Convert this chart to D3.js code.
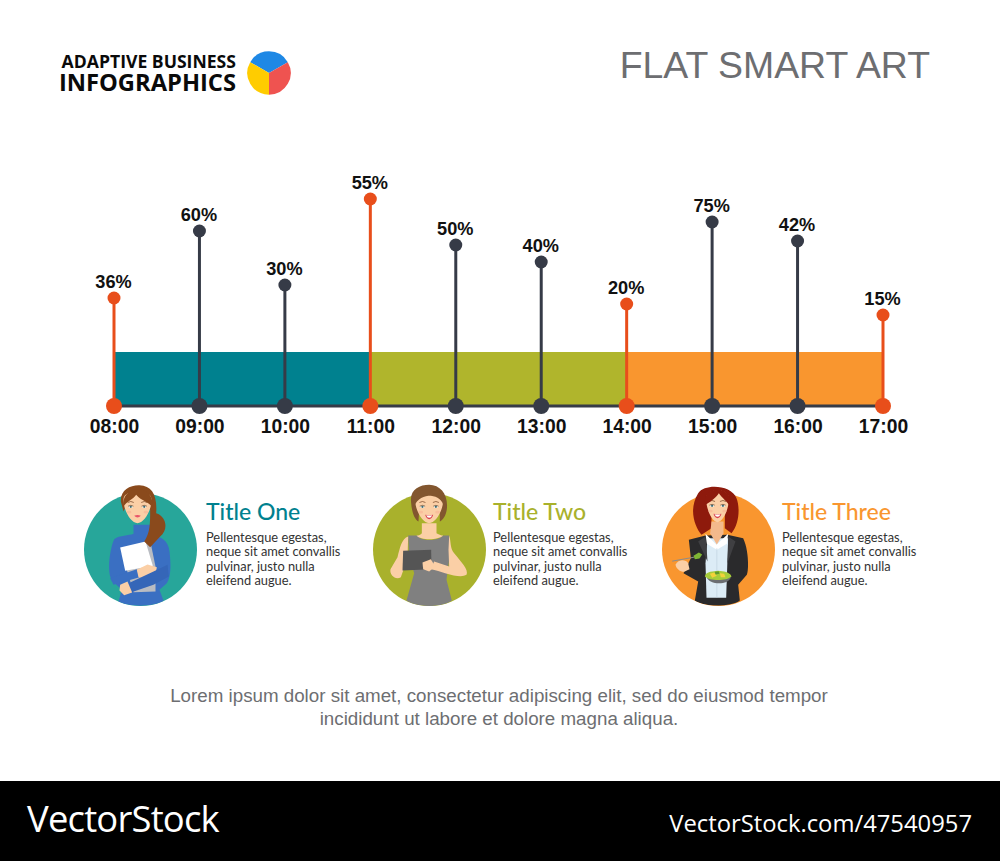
<!DOCTYPE html>
<html><head><meta charset="utf-8">
<script src="https://d3js.org/d3.v7.min.js"></script>
<style>html,body{margin:0;padding:0;background:#fff}svg{display:block}</style>
</head><body><svg id="c" width="1000" height="861" viewBox="0 0 1000 861"></svg>
<script>
const times=["08:00","09:00","10:00","11:00","12:00","13:00","14:00","15:00","16:00","17:00"];
const percentLabels=["36%","60%","30%","55%","50%","40%","20%","75%","42%","15%"];
const stemHeights=[108,175,121,207,161,144,102,184,165,91];
const accented=["08:00","11:00","14:00","17:00"];
const bandStarts=["08:00","11:00","14:00"];
const bandEnds=["11:00","14:00","17:00"];
const bandHeight=54;
const bandColors=["#00818f","#b0b52c","#f9962f"];
const titles=["Title One","Title Two","Title Three"];
const titleColors=["#00818f","#a9b12c","#f9962f"];
const circleColors=["#27a69a","#a9b12c","#f9962f"];
const descLines=["Pellentesque egestas,","neque sit amet convallis","pulvinar, justo nulla","eleifend augue."];
const logoShares=[1,1,1];
const logoColors=["#1e88e5","#ef5350","#ffcc00"];
const footerLines=["Lorem ipsum dolor sit amet, consectetur adipiscing elit, sed do eiusmod tempor","incididunt ut labore et dolore magna aliqua."];

const svg=d3.select("#c");
const DARK="#363b47",ORANGE="#e84e1b",GREY="#6d6e71";
const ARIAL="'Liberation Sans',Arial,sans-serif";
const x=d3.scalePoint().domain(times).range([114,883]);
const y=d3.scaleLinear().domain([0,207]).range([406,199]);
const col=t=>accented.includes(t)?ORANGE:DARK;

// header
const logo=svg.append("text").attr("text-anchor","end").attr("font-family","'Open Sans',sans-serif").attr("font-weight",700).attr("fill","#0a0a0a");
logo.append("tspan").attr("x",236).attr("y",68).attr("font-size",17.6).text("ADAPTIVE BUSINESS");
logo.append("tspan").attr("x",236).attr("y",91).attr("font-size",23.7).text("INFOGRAPHICS");
const pie=d3.pie().sort(null).startAngle(-Math.PI/3).endAngle(Math.PI*5/3)(logoShares);
svg.append("g").attr("transform","translate(269,73)").selectAll("path").data(pie).join("path")
  .attr("d",d3.arc().innerRadius(0).outerRadius(21.7)).attr("fill",(d,i)=>logoColors[i]);
svg.append("text").attr("x",930).attr("y",78).attr("text-anchor","end").attr("font-family",ARIAL).attr("font-size",37.4).attr("fill",GREY).text("FLAT SMART ART");

// bands
svg.append("g").selectAll("rect").data(bandStarts).join("rect")
  .attr("x",d=>x(d)).attr("width",(d,i)=>x(bandEnds[i])-x(d))
  .attr("y",y(bandHeight)).attr("height",y(0)-y(bandHeight)).attr("fill",(d,i)=>bandColors[i]);
// baseline
svg.append("line").attr("x1",x(times[0])).attr("x2",x(times[9])).attr("y1",y(0)).attr("y2",y(0)).attr("stroke",DARK).attr("stroke-width",3);
// stems
const g=svg.append("g").selectAll("g").data(times).join("g");
g.append("line").attr("x1",d=>x(d)).attr("x2",d=>x(d)).attr("y1",y(0)).attr("y2",(d,i)=>y(stemHeights[i])).attr("stroke",col).attr("stroke-width",3);
g.append("circle").attr("cx",d=>x(d)).attr("cy",(d,i)=>y(stemHeights[i])).attr("r",6.5).attr("fill",col);
g.append("circle").attr("cx",d=>x(d)).attr("cy",y(0)).attr("r",8).attr("fill",col);
g.append("text").attr("x",d=>x(d)-0.5).attr("y",(d,i)=>y(stemHeights[i])-10.5).attr("text-anchor","middle").attr("font-family",ARIAL).attr("font-weight",700).attr("font-size",18.2).attr("fill","#111").text((d,i)=>percentLabels[i]);
g.append("text").attr("x",d=>x(d)+0.5).attr("y",433).attr("text-anchor","middle").attr("font-family",ARIAL).attr("font-weight",700).attr("font-size",19.3).attr("fill","#111").text(d=>d);

// people (authored in a 3x local grid around the circle centre)
const SKIN="#fbcfa6",SKIN2="#f3b98c";
function P(s,d,f,extra){const p=s.append("path").attr("d",d).attr("fill",f);if(extra)for(const k in extra)p.attr(k,extra[k]);return p;}
function face(s,cx,cy,w,smile){
  P(s,`M${cx-w} ${cy-30} C${cx-w} ${cy-62} ${cx+w} ${cy-62} ${cx+w} ${cy-30} C${cx+w+1} ${cy+4} ${cx+w*.45} ${cy+42} ${cx} ${cy+42} C${cx-w*.45} ${cy+42} ${cx-w-1} ${cy+4} ${cx-w} ${cy-30}Z`,SKIN);
  const ex=w*.48;
  [-1,1].forEach(k=>{
    s.append("ellipse").attr("cx",cx+k*ex).attr("cy",cy-7).attr("rx",6.5).attr("ry",3.6).attr("fill","#e9f2ee");
    s.append("circle").attr("cx",cx+k*ex).attr("cy",cy-7).attr("r",3.2).attr("fill","#3f6a70");
    P(s,`M${cx+k*ex-8} ${cy-9} Q${cx+k*ex} ${cy-14} ${cx+k*ex+8} ${cy-9}`,"none",{stroke:"#3a2415","stroke-width":1.6});
    P(s,`M${cx+k*ex-9} ${cy-20} Q${cx+k*ex} ${cy-26} ${cx+k*ex+9} ${cy-20}`,"none",{stroke:"#6b3a1b","stroke-width":2});
    s.append("ellipse").attr("cx",cx+k*(ex+5)).attr("cy",cy+9).attr("rx",7).attr("ry",4).attr("fill","#f6a98f").attr("opacity",.45);
  });
  if(smile){
    P(s,`M${cx-12} ${cy+17} Q${cx} ${cy+19} ${cx+12} ${cy+17} Q${cx+8} ${cy+30} ${cx} ${cy+30} Q${cx-8} ${cy+30} ${cx-12} ${cy+17}Z`,"#d8434f");
    P(s,`M${cx-9} ${cy+18.5} Q${cx} ${cy+20} ${cx+9} ${cy+18.5} Q${cx+6} ${cy+26} ${cx} ${cy+26} Q${cx-6} ${cy+26} ${cx-9} ${cy+18.5}Z`,"#fff");
  } else P(s,`M${cx-10} ${cy+20} Q${cx} ${cy+15} ${cx+10} ${cy+20} Q${cx} ${cy+30} ${cx-10} ${cy+20}Z`,"#e8566a");
}
function person1(s){
  P(s,"M190 165L240 165L242 198C272 198 294 212 298 245C304 295 300 325 290 340L268 360L280 393C250 412 172 412 145 395L155 360L128 335C108 315 118 240 132 208C150 196 175 198 190 192Z","#3a6fc2");
  P(s,"M225 215L240 212L256 290L256 365L190 367L170 300Z","#b9bcc2");
  P(s,"M150 233L226 215L248 288L165 303Z","#ffffff");
  P(s,"M120 325L200 298L208 322L130 345Z","#3a6fc2");
  P(s,"M200 300L232 284L260 292L256 312L222 324L205 322Z",SKIN);
  P(s,"M172 342L250 305L292 285L296 320L250 345L182 368Z","#3566b8");
  P(s,"M150 345L172 335L186 368L162 376L148 362Z",SKIN);
  P(s,"M152 95C150 60 180 45 208 46C245 48 262 75 258 130C290 140 295 180 270 200L240 232L222 215C240 190 240 160 240 120L190 85C175 100 165 110 160 125Z","#8a4a1c");
  face(s,202,118,42,false);
  P(s,"M160 110C170 95 190 88 198 75C215 95 235 95 246 112C252 80 230 58 205 58C175 58 155 80 160 110Z","#8a4a1c");
}
function person2(s){
  P(s,"M147 197L175 197C185 215 235 215 252 197L270 197L272 255L262 330L278 392C250 414 170 414 142 392L165 310L150 260Z","#808080");
  P(s,"M188 160L232 160L232 190C240 195 248 197 252 197C235 212 185 212 172 197C178 197 185 195 188 190Z",SKIN);
  P(s,"M147 200C128 205 122 235 115 262L94 298C90 315 110 332 125 322L145 265Z",SKIN);
  P(s,"M270 197C276 215 272 235 285 250C305 275 330 300 322 315C300 328 250 305 215 298L225 275L270 290L268 240Z",SKIN);
  P(s,"M132 243L216 240L217 298L130 302Z","#555555");
  P(s,"M190 278L215 268L228 290L210 305L192 298Z",SKIN);
  P(s,"M156 100C150 60 180 45 210 45C245 46 268 75 263 118C260 140 250 150 242 155L242 120L180 120L178 155C165 148 158 125 156 100Z","#82562f");
  face(s,210,118,42,true);
  P(s,"M165 110C175 85 195 78 215 78C235 80 250 92 254 110C262 70 235 58 210 58C180 58 158 78 165 110Z","#82562f");
}
function person3(s){
  P(s,"M172 197L238 195L285 205C302 240 302 300 296 315L270 345L275 392C250 412 165 412 140 392L150 335L106 310L128 265L122 210Z","#2a2a2c");
  P(s,"M178 205L240 205L234 384L175 384L172 280Z","#dcecf6");
  P(s,"M172 192L205 225L240 192L236 222L206 240L176 222Z","#ffffff");
  P(s,"M172 200L150 215L178 275L175 230Z","#3f3f42");
  P(s,"M240 200L262 215L238 280L240 230Z","#3f3f42");
  P(s,"M206 235V384","none",{stroke:"#b7cbd8","stroke-width":1.5});
  P(s,"M150 70C120 120 140 170 160 195L190 175L190 120L230 105L230 175L250 190C275 160 275 110 265 85C250 45 170 40 150 70Z","#8e1a0c");
  P(s,"M190 155L226 155L226 190L206 224L186 190Z",SKIN2);
  face(s,208,115,34,true);
  P(s,"M172 105C188 95 205 82 212 70C222 85 238 95 245 110C252 78 235 60 207 60C180 60 165 78 172 105Z","#8e1a0c");
  P(s,"M82 285C90 268 112 268 120 280L124 298L108 306C95 306 85 298 82 285Z",SKIN);
  P(s,"M72 274L138 262","none",{stroke:"#8c8c8c","stroke-width":3});
  P(s,"M136 258L152 248L162 254L154 266L140 268Z","#7fb534");
  P(s,"M176 322C182 345 240 348 248 322Z","#6b6e72");
  P(s,"M170 320C175 303 195 306 210 303C225 305 245 306 250 320C235 334 185 334 170 320Z","#a6cc3a");
  P(s,"M185 312L198 308L206 318L192 324Z","#f3d23a");
  P(s,"M215 310L228 312L232 322L218 322Z","#f3d23a");
  P(s,"M200 306L212 304L214 312L202 314Z","#5f9a2c");
}
const people=[person1,person2,person3];
const cxs=[140.5,429.5,718.5];
const textX=[206,493,782];
const defs=svg.append("defs");
cxs.forEach((cx,i)=>{
  const gr=svg.append("g");
  gr.append("circle").attr("cx",cx).attr("cy",549.5).attr("r",56.5).attr("fill",circleColors[i]);
  defs.append("clipPath").attr("id","pc"+i).append("path")
    .attr("d",`M${cx-70} 470H${cx+70}V549.5H${cx+56.5}A56.5 56.5 0 0 1 ${cx-56.5} 549.5H${cx-70}Z`);
  const p=gr.append("g").attr("clip-path",`url(#pc${i})`).append("g")
    .attr("transform",`translate(${cx},549.5) scale(${1/3}) translate(-211,-239)`);
  people[i](p);
  gr.append("text").attr("x",textX[i]).attr("y",519.5).attr("font-family","Lato,sans-serif").attr("font-size",23).attr("font-weight",500).attr("fill",titleColors[i]).text(titles[i]);
  gr.append("g").selectAll("text").data(descLines).join("text").attr("x",textX[i]).attr("y",(d,j)=>542+j*14.4)
    .attr("font-family","Lato,sans-serif").attr("font-size",12.85).attr("fill","#333").text(d=>d);
});

// footer
svg.append("g").selectAll("text").data(footerLines).join("text").attr("x",499).attr("y",(d,i)=>702+i*23).attr("text-anchor","middle")
  .attr("font-family",ARIAL).attr("font-size",18.75).attr("fill",GREY).text(d=>d);
svg.append("rect").attr("x",0).attr("y",781).attr("width",1000).attr("height",80).attr("fill","#000");
svg.append("text").attr("x",27).attr("y",832).attr("font-family","'Open Sans',sans-serif").attr("font-size",36.4).attr("letter-spacing",-0.8).attr("fill","#fff").text("VectorStock");
svg.append("text").attr("x",972).attr("y",832).attr("text-anchor","end").attr("font-family","'Open Sans',sans-serif").attr("font-size",23.8).attr("fill","#fff").text("VectorStock.com/47540957");
</script></body></html>
